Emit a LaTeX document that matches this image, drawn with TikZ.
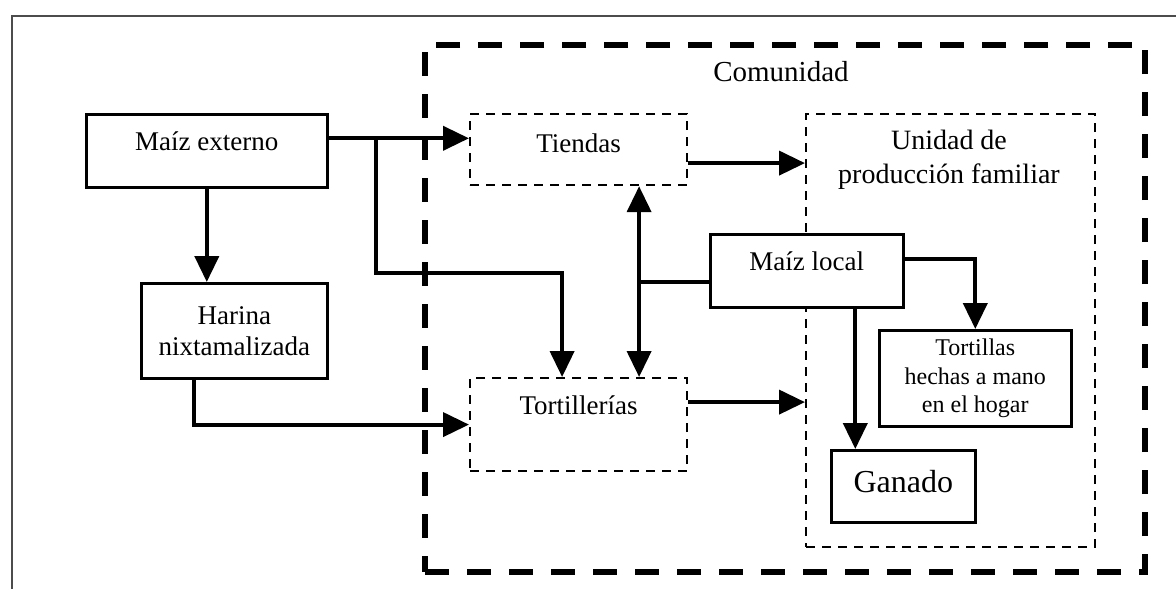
\documentclass[tikz,border=0pt]{standalone}
\usepackage{fontspec}
\setmainfont{Liberation Serif}
\usetikzlibrary{arrows.meta}

\tikzset{
  box/.style = {draw, fill = white, line width = 2.6pt, inner sep = 0pt, anchor = north west,
    font = \fontsize{27}{31}\selectfont},
  dbox/.style = {draw, line width = 2.2pt, dash pattern = on 9pt off 7pt,
    inner sep = 0pt, anchor = north west, font = \fontsize{27}{31}\selectfont},
  flow/.style = {line width = 4pt, -{Triangle[length = 26pt, width = 24pt]}},
  both/.style = {line width = 4pt,
    {Triangle[length = 26pt, width = 24pt]}-{Triangle[length = 26pt, width = 24pt]}}
}

\begin{document}
\begin{tikzpicture}[x = 1pt, y = -1pt]

      \useasboundingbox (0, 0) rectangle (1176, 589);
      \draw[black!70, line width = 2pt] (12, 589) -- (12, 16) -- (1176, 16);

      \node[draw, line width = 6pt, dash pattern = on 24pt off 18pt, anchor = north west,
        minimum width = 720pt, minimum height = 527pt] (com) at (422, 42) {};
      \node[font = \fontsize{29}{33}\selectfont] (comtxt) at (781, 72) {Comunidad};
      \node[dbox, minimum width = 289pt, minimum height = 433pt] (upf) at (805, 113) {};
      \node[align = center, font = \fontsize{28}{34}\selectfont] (upftxt) at (949, 160)
        {Unidad de\\producción familiar};

      \node[box, minimum width = 241pt, text height = 36pt, text depth = 37pt] (ext)
        at (85, 113) {Maíz externo};
      \node[box, minimum width = 186pt, minimum height = 95pt, align = center,
        font = \fontsize{27}{31}\selectfont] (har) at (140, 282) {Harina\\nixtamalizada};
      \node[dbox, minimum width = 217pt, text height = 38pt, text depth = 33pt] (tie)
        at (469, 113) {Tiendas};
      \node[dbox, minimum width = 217pt, text height = 36pt, text depth = 57pt] (tor)
        at (469, 377) {Tortillerías};
      \node[box, minimum width = 193pt, text height = 36pt, text depth = 37pt] (loc)
        at (709, 233) {Maíz local};
      \node[box, minimum width = 192pt, minimum height = 96pt, align = center,
        font = \fontsize{24}{28.5}\selectfont] (tort) at (878, 329)
        {Tortillas\\hechas a mano\\en el hogar};
      \node[box, minimum width = 144pt, text height = 42pt, text depth = 30pt,
        font = \fontsize{32}{36}\selectfont] (gan) at (830, 449) {Ganado};

      % flujos
      \coordinate (br) at ([xshift = 47pt, yshift = 12.5pt]ext.east);
      \coordinate (mid) at ([xshift = 60.5pt]tie.south);
      \draw[flow] ([yshift = 12.5pt]ext.east) -- ([yshift = 12.5pt]ext.east -| tie.west);
      \draw[flow] (br) |- ([xshift = -16.5pt, yshift = 104pt]tor.north)
        -- ([xshift = -16.5pt]tor.north);
      \draw[flow] (ext.south) -- (ext.south |- har.north);
      \draw[flow] ([xshift = -40pt]har.south) |- (tor.west);
      \draw[flow] ([yshift = -13.5pt]tie.east) -- ([yshift = -13.5pt]tie.east -| upf.west);
      \draw[flow] ([yshift = 22.5pt]tor.east) -- ([yshift = 22.5pt]tor.east -| upf.west);
      \draw[both] (mid) -- ([xshift = 60.5pt]tor.north);
      \draw[line width = 4pt] ([yshift = -11.5pt]loc.west) -- ([yshift = -11.5pt]loc.west -| mid);
      \draw[flow] ([yshift = 11.5pt]loc.east) -| (tort.north);
      \draw[flow] ([xshift = 48.5pt]loc.south) -- ([xshift = 48.5pt]loc.south |- gan.north);

\end{tikzpicture}
\end{document}
